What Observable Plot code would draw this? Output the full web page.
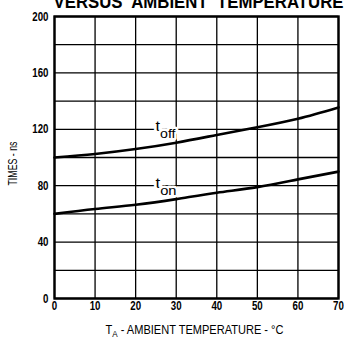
<!DOCTYPE html>
<html><head><meta charset="utf-8">
<script src="https://cdn.jsdelivr.net/npm/d3@7"></script>
<script src="https://cdn.jsdelivr.net/npm/@observablehq/plot@0.6"></script>
<style>
html,body{margin:0;padding:0;background:#fff;}
#chart svg{display:block;}
</style></head><body><div id="chart"></div>
<script>
// ---- data ----
const temps = [0, 10, 20, 30, 40, 50, 60, 70];
const tOff  = [100, 102.5, 106, 110.5, 116, 121.5, 127.5, 135.5];
const tOn   = [60, 63.5, 66.5, 70.5, 75, 79, 84.5, 90];
const xTicks = [0, 10, 20, 30, 40, 50, 60, 70];
const yTicks = [0, 40, 80, 120, 160, 200];
const yGrid  = [0, 20, 40, 60, 80, 100, 120, 140, 160, 180, 200];
const seriesNames = ["off", "on"];
const seriesLabelX = [24.9, 24.9];
const seriesLabelY = [120, 80];
const titleText = "VERSUS  AMBIENT  TEMPERATURE";
const xLabelMain = "T";
const xLabelSub = "A";
const xLabelRest = " - AMBIENT TEMPERATURE - °C";
const yLabelText = "TIMES - ns";

const offRows = temps.map((t, i) => ({t, v: tOff[i]}));
const onRows = temps.map((t, i) => ({t, v: tOn[i]}));
const labelRows = seriesNames.map((n, i) => ({name: n, x: seriesLabelX[i], y: seriesLabelY[i]}));

const font = "'Liberation Sans',Arial,sans-serif";

const chart = Plot.plot({
  width: 344, height: 339,
  marginLeft: 54, marginRight: 6, marginTop: 16, marginBottom: 41,
  style: {fontFamily: font, background: "#fff", color: "#000", overflow: "visible"},
  x: {domain: [0, 70]},
  y: {domain: [0, 200]},
  marks: [
    Plot.ruleX(xTicks, {stroke: "#000", strokeWidth: 1.3}),
    Plot.ruleY(yGrid, {stroke: "#000", strokeWidth: 1.3}),
    Plot.frame({stroke: "#000", strokeWidth: 2.4}),
    Plot.line(offRows, {x: "t", y: "v", curve: "natural", stroke: "#000", strokeWidth: 2.6}),
    Plot.line(onRows, {x: "t", y: "v", curve: "natural", stroke: "#000", strokeWidth: 2.6}),
    Plot.text(labelRows, {x: "x", y: "y", text: d => "t" + d.name, textAnchor: "start", lineAnchor: "bottom",
      dy: 2, fontSize: 15, fill: "#000", stroke: "#fff", strokeWidth: 5, fontFamily: font}),
    Plot.axisX({ticks: xTicks, tickSize: 0, tickPadding: 2, fontSize: 13, fontWeight: "bold", label: null, tickFormat: d => String(d)}),
    Plot.axisY({ticks: yTicks, tickSize: 0, tickPadding: 6, fontSize: 13, fontWeight: "bold", label: null, tickFormat: d => String(d)}),
    Plot.text([titleText], {frameAnchor: "top-left", textAnchor: "start", lineAnchor: "bottom", dx: -1, dy: -9,
      fontSize: 18, fontWeight: "bold", fill: "#000", fontFamily: font}),
    Plot.text([yLabelText], {frameAnchor: "left", dx: -42, dy: 6, rotate: -90, textAnchor: "middle", fontSize: 12.5, fill: "#000"}),
    Plot.text([xLabelMain + xLabelSub + xLabelRest], {frameAnchor: "bottom", dx: -2, dy: 35, lineAnchor: "bottom", textAnchor: "middle", fontSize: 13, fill: "#000"})
  ]
});
document.getElementById("chart").appendChild(chart);

// subscripts, condensed widths
const svg = d3.select(chart);
svg.selectAll("text").each(function() {
  const el = d3.select(this);
  const txt = this.textContent;
  if (txt === "toff" || txt === "ton") {
    const sub = txt.slice(1);
    el.text(null);
    el.append("tspan").text("t");
    el.append("tspan").attr("font-size", 13).attr("dy", 7).text(sub);
    el.attr("textLength", sub.length === 3 ? 20 : 21).attr("lengthAdjust", "spacingAndGlyphs");
  } else if (txt === xLabelMain + xLabelSub + xLabelRest) {
    el.text(null);
    el.append("tspan").text(xLabelMain);
    el.append("tspan").attr("font-size", 9.5).attr("dy", 3).text(xLabelSub);
    el.append("tspan").attr("dy", -3).text(xLabelRest);
    el.attr("textLength", 178).attr("lengthAdjust", "spacingAndGlyphs");
  } else if (txt === titleText) {
    el.attr("textLength", 290).attr("lengthAdjust", "spacingAndGlyphs").style("white-space", "pre");
  } else if (txt === yLabelText) {
    el.attr("textLength", 44).attr("lengthAdjust", "spacingAndGlyphs");
  } else if (/^\d+$/.test(txt)) {
    el.attr("textLength", 5.4 * txt.length).attr("lengthAdjust", "spacingAndGlyphs");
  }
});
</script>
</body></html>
